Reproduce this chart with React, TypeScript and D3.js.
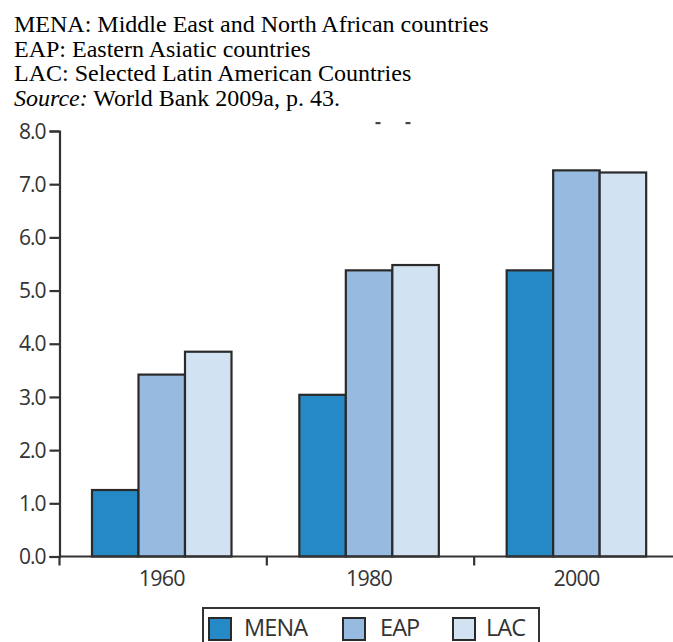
import React, { useEffect, useRef } from "react";
import * as d3 from "d3";

const years = ["1960", "1980", "2000"];
const seriesNames = ["MENA", "EAP", "LAC"];
const menaValues = [1.25, 3.04, 5.38];
const eapValues = [3.42, 5.38, 7.26];
const lacValues = [3.85, 5.48, 7.22];
const yTicks = [0, 1, 2, 3, 4, 5, 6, 7, 8];
const seriesColors = ["#2589c6", "#96bae0", "#d1e3f2"];
const noteLines = [
  { italic: "", text: "MENA: Middle East and North African countries" },
  { italic: "", text: "EAP: Eastern Asiatic countries" },
  { italic: "", text: "LAC: Selected Latin American Countries" },
  { italic: "Source:", text: " World Bank 2009a, p. 43." },
];

const W = 673;
const H = 642;
const axisColor = "#333333";
const sansFont = "'Open Sans', 'DejaVu Sans', sans-serif";

export default function App() {
  const ref = useRef<SVGSVGElement>(null);

  useEffect(() => {
    const svg = d3.select(ref.current);
    svg.selectAll("*").remove();

    const values = [menaValues, eapValues, lacValues];
    const rows = years.map((yr, i) => ({
      year: yr,
      vals: seriesNames.map((s, j) => ({ key: s, value: values[j][i] })),
    }));

    // Notes at top
    const notes = svg.append("g");
    noteLines.forEach((ln, i) => {
      const t = notes
        .append("text")
        .attr("x", 14)
        .attr("y", 32 + i * 24.7)
        .attr("font-family", "'Liberation Serif', 'Times New Roman', serif")
        .attr("font-size", 24)
        .attr("fill", "#000");
      if (ln.italic) t.append("tspan").attr("font-style", "italic").text(ln.italic);
      t.append("tspan").text(ln.text);
    });

    // stray dashes from the source scan
    [378, 408].forEach((x) => {
      svg.append("rect").attr("x", x - 2.5).attr("y", 122).attr("width", 5).attr("height", 2.2).attr("fill", "#444");
    });

    const y = d3.scaleLinear().domain([0, 8]).range([556.5, 131]);
    const x0 = d3.scaleBand<string>().domain(years).range([59.5, 681.5]).padding(0);
    const x1 = d3.scaleBand<string>().domain(seriesNames).range([32.5, 172]).padding(0);
    const color = d3.scaleOrdinal<string, string>().domain(seriesNames).range(seriesColors);

    // bars
    const groups = svg
      .append("g")
      .selectAll("g")
      .data(rows)
      .join("g")
      .attr("transform", (d) => `translate(${x0(d.year)},0)`);
    groups
      .selectAll("rect")
      .data((d) => d.vals)
      .join("rect")
      .attr("x", (d) => x1(d.key)!)
      .attr("width", x1.bandwidth())
      .attr("y", (d) => y(d.value))
      .attr("height", (d) => y(0) - y(d.value))
      .attr("fill", (d) => color(d.key))
      .attr("stroke", "#2a2a2a")
      .attr("stroke-width", 2.2);

    // y axis
    const yAxis = svg
      .append("g")
      .attr("transform", "translate(59.5,0)")
      .call(
        d3
          .axisLeft(y)
          .tickValues(yTicks)
          .tickFormat(d3.format(".1f"))
          .tickSize(10)
          .tickSizeOuter(10)
          .tickPadding(4)
      );
    yAxis.select(".domain").attr("stroke", axisColor).attr("stroke-width", 2.2);
    yAxis.selectAll(".tick line").attr("stroke", axisColor).attr("stroke-width", 2.2);
    yAxis
      .selectAll(".tick text")
      .attr("fill", "#333")
      .attr("font-family", sansFont)
      .attr("font-size", 21)
      .attr("letter-spacing", -1)
      .attr("dy", "0.34em");

    // x axis
    const xg = svg.append("g");
    xg.append("line")
      .attr("x1", 59)
      .attr("x2", W + 10)
      .attr("y1", y(0))
      .attr("y2", y(0))
      .attr("stroke", axisColor)
      .attr("stroke-width", 2.2);
    const boundaries = years.map((yr) => x0(yr)!).concat([x0.range()[1]]);
    xg.selectAll("line.tk")
      .data(boundaries)
      .join("line")
      .attr("class", "tk")
      .attr("x1", (d) => d)
      .attr("x2", (d) => d)
      .attr("y1", y(0))
      .attr("y2", y(0) + 9)
      .attr("stroke", axisColor)
      .attr("stroke-width", 2.2);
    xg.selectAll("text")
      .data(years)
      .join("text")
      .attr("x", (d) => x0(d)! + (x1.range()[0] + x1.range()[1]) / 2)
      .attr("y", 586)
      .attr("text-anchor", "middle")
      .attr("font-family", sansFont)
      .attr("font-size", 21.5)
      .attr("letter-spacing", -0.8)
      .attr("fill", "#333")
      .text((d) => d);

    // legend
    const lg = svg.append("g");
    lg.append("rect")
      .attr("x", 203)
      .attr("y", 608)
      .attr("width", 336)
      .attr("height", 60)
      .attr("fill", "#fff")
      .attr("stroke", axisColor)
      .attr("stroke-width", 2);
    const swatchX = [209, 343, 453];
    const labelX = [244, 380, 486];
    seriesNames.forEach((s, i) => {
      lg.append("rect")
        .attr("x", swatchX[i])
        .attr("y", 618)
        .attr("width", 22)
        .attr("height", 22)
        .attr("fill", color(s))
        .attr("stroke", "#2a2a2a")
        .attr("stroke-width", 2);
      lg.append("text")
        .attr("x", labelX[i])
        .attr("y", 636)
        .attr("font-family", sansFont)
        .attr("font-size", 23.5)
        .attr("letter-spacing", -0.9)
        .attr("fill", "#333")
        .text(s);
    });
  }, []);

  return (
    <div style={{ position: "absolute", left: 0, top: 0, width: W, height: H, overflow: "hidden", background: "#fff" }}>
      <svg ref={ref} width={W} height={H} style={{ display: "block" }} />
    </div>
  );
}
